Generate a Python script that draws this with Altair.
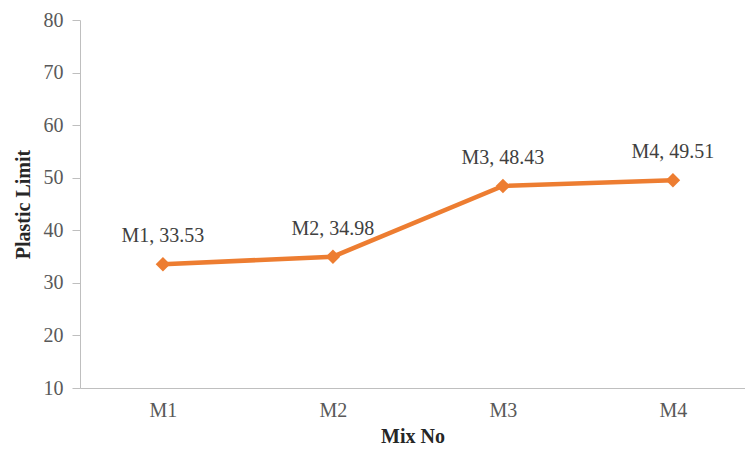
import json
import altair as alt
import pandas as pd

# Plastic limit per mix
mixes = ["M1", "M2", "M3", "M4"]
plastic_limit = [33.53, 34.98, 48.43, 49.51]

df = pd.DataFrame({
    "mix": mixes,
    "pos": list(range(1, len(mixes) + 1)),
    "limit": plastic_limit,
})
df["label"] = [f"{m}, {v:.2f}" for m, v in zip(mixes, plastic_limit)]

FONT = "Liberation Serif"
ORANGE = "#ED7D31"
label_lookup = json.dumps(mixes)

x = alt.X(
    "pos:Q",
    title="Mix No",
    scale=alt.Scale(domain=[0.512, 4.424], nice=False, zero=False),
    axis=alt.Axis(
        values=list(range(1, len(mixes) + 1)),
        labelExpr=f"{label_lookup}[datum.value - 1]",
        ticks=False,
        grid=False,
        domainColor="#BFBFBF",
        labelFont=FONT,
        labelFontSize=20,
        labelColor="#595959",
        labelPadding=12,
        titleFont=FONT,
        titleFontSize=20,
        titleFontWeight="bold",
        titleColor="#262626",
        titlePadding=6,
    ),
)
y = alt.Y(
    "limit:Q",
    title="Plastic Limit",
    scale=alt.Scale(domain=[10, 80], nice=False, zero=False),
    axis=alt.Axis(
        values=list(range(10, 81, 10)),
        grid=False,
        tickSize=8,
        tickColor="#BFBFBF",
        domainColor="#BFBFBF",
        labelFont=FONT,
        labelFontSize=20,
        labelColor="#595959",
        labelPadding=9,
        titleFont=FONT,
        titleFontSize=20,
        titleFontWeight="bold",
        titleColor="#262626",
        titlePadding=10,
    ),
)

base = alt.Chart(df).encode(x=x, y=y)

line = base.mark_line(color=ORANGE, strokeWidth=4.5)
points = base.mark_point(shape="diamond", filled=True, color=ORANGE, size=210, opacity=1)
labels = base.mark_text(
    font=FONT, fontSize=20, color="#404040", dy=-28, baseline="middle"
).encode(text="label:N")

chart = (
    alt.layer(line, points, labels)
    .properties(
        width=665,
        height=368,
        padding={"left": 80, "top": 20, "right": 0, "bottom": 62},
        autosize=alt.AutoSizeParams(type="none"),
        background="white",
    )
    .configure_view(stroke=None)
)

chart.save("out.html", embed_options={"renderer": "svg", "actions": False})
